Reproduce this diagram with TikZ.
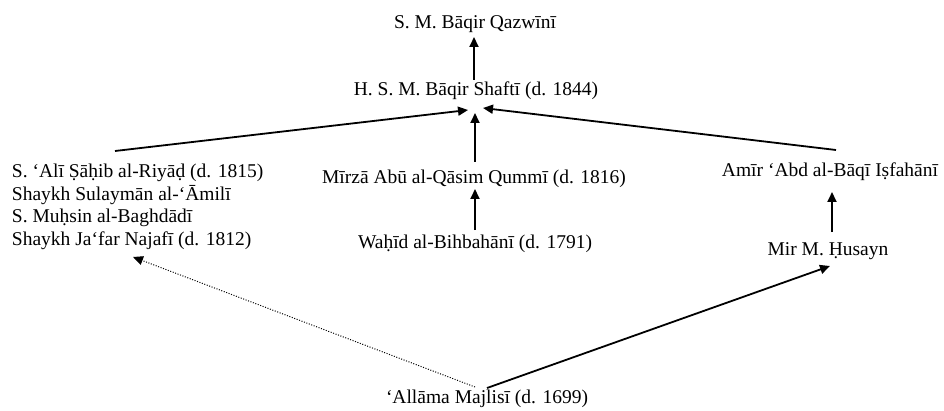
\documentclass[tikz,border=0pt]{standalone}
\usepackage{fontspec}
\setmainfont{Liberation Serif}
\usetikzlibrary{arrows.meta,calc}
\begin{document}
\begin{tikzpicture}[x=1pt,y=1pt,
  person/.style={inner sep=0pt,outer sep=0pt,font=\fontsize{19.5}{22.5}\selectfont},
  link/.style={line width=1.8pt,-{Triangle[length=10pt,width=9pt]}},
  dotlink/.style={line width=1pt,dash pattern=on 1pt off 1.6pt,-{Triangle[length=10pt,width=9pt]}}]
\useasboundingbox (0,0) rectangle (944,410);
\node[person,anchor=base] (q) at (475,381) {S. M. Bāqir Qazwīnī};
\node[person,anchor=base] (s) at (476,314) {H. S. M. Bāqir Shaftī (d. 1844)};
\node[person,anchor=base] (m) at (474,226) {Mīrzā Abū al-Qāsim Qummī (d. 1816)};
\node[person,anchor=base] (w) at (475,162) {Waḥīd al-Bihbahānī (d. 1791)};
\node[person,anchor=base] (a) at (830,233) {Amīr ‘Abd al-Bāqī Iṣfahānī};
\node[person,anchor=base] (h) at (828,155) {Mir M. Ḥusayn};
\node[person,anchor=base] (j) at (487,7) {‘Allāma Majlisī (d. 1699)};
\node[person,anchor=north west,align=left] (l) at (12,246) {S. ‘Alī Ṣāḥib al-Riyāḍ (d. 1815)\\Shaykh Sulaymān al-‘Āmilī\\S. Muḥsin al-Baghdādī\\Shaykh Ja‘far Najafī (d. 1812)};
\draw[link] ($(s.base)+(-2,16)$) -- ($(q.base)+(-1,-8)$);
\draw[link] ($(m.base)+(1,22)$) -- ($(s.base)+(-1,-17)$);
\draw[link] ($(l.north west)+(103,13)$) -- ($(s.base)+(-8,-14)$);
\draw[link] ($(a.base)+(6,27)$) -- ($(s.base)+(7,-12)$);
\draw[link] ($(w.base)+(0,18)$) -- ($(m.base)+(1,-5)$);
\draw[link] ($(h.base)+(4,23)$) -- ($(a.base)+(2,-15)$);
\draw[link] ($(j.base)+(0,15)$) -- ($(h.base)+(2,-11)$);
\draw[dotlink] ($(j.base)+(-12,16)$) -- ($(l.north west)+(121,-93)$);
\end{tikzpicture}
\end{document}
